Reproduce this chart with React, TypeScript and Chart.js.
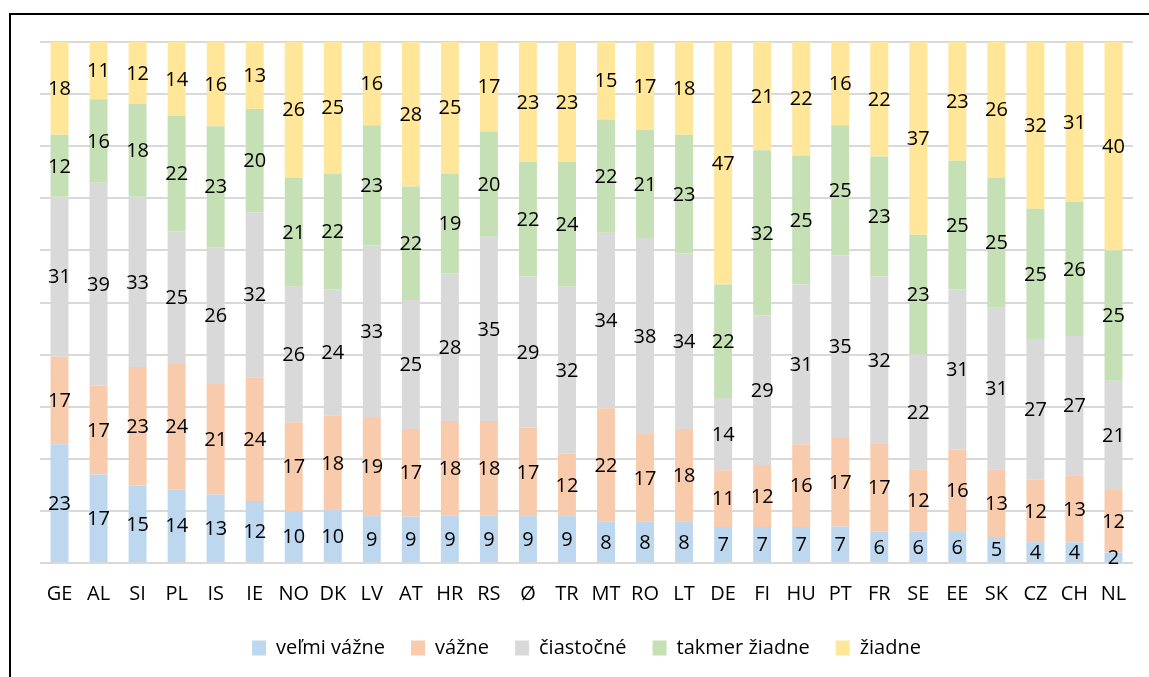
import React, { useEffect, useRef } from "react";
import { Chart, registerables } from "chart.js";

Chart.register(...registerables);

const categories = ["GE","AL","SI","PL","IS","IE","NO","DK","LV","AT","HR","RS","Ø","TR","MT","RO","LT","DE","FI","HU","PT","FR","SE","EE","SK","CZ","CH","NL"];

const velmiVazne = [23,17,15,14,13,12,10,10,9,9,9,9,9,9,8,8,8,7,7,7,7,6,6,6,5,4,4,2];
const vazne      = [17,17,23,24,21,24,17,18,19,17,18,18,17,12,22,17,18,11,12,16,17,17,12,16,13,12,13,12];
const ciastocne  = [31,39,33,25,26,32,26,24,33,25,28,35,29,32,34,38,34,14,29,31,35,32,22,31,31,27,27,21];
const takmerZiadne = [12,16,18,22,23,20,21,22,23,22,19,20,22,24,22,21,23,22,32,25,25,23,23,25,25,25,26,25];
const ziadne     = [18,11,12,14,16,13,26,25,16,28,25,17,23,23,15,17,18,47,21,22,16,22,37,23,26,32,31,40];

const seriesNames = ["veľmi vážne","vážne","čiastočné","takmer žiadne","žiadne"];
const seriesColors = ["#bdd7ee","#f8cbad","#d9d9d9","#c5e0b4","#ffe699"];
const seriesValues = [velmiVazne, vazne, ciastocne, takmerZiadne, ziadne];

const FONT = "'Open Sans', sans-serif";
const LEGEND_TRIM = 5;

const labelPlugin = {
  id: "segLabels",
  afterDatasetsDraw(chart: any) {
    const ctx = chart.ctx;
    ctx.save();
    ctx.font = `20px ${FONT}`;
    ctx.fillStyle = "#000";
    ctx.textAlign = "center";
    ctx.textBaseline = "middle";
    chart.data.datasets.forEach((ds: any, i: number) => {
      const meta = chart.getDatasetMeta(i);
      meta.data.forEach((el: any, j: number) => {
        const p = el.getProps(["x", "y", "base"], true);
        ctx.fillText(String(ds.rawValues[j]), p.x, (p.y + p.base) / 2 + 1);
      });
    });
    ctx.restore();
  },
};

const legendTrimPlugin = {
  id: "legendTrim",
  beforeLayout(chart: any) {
    const lg = chart.legend;
    if (!lg || lg.__trimmed) return;
    lg.__trimmed = true;
    const origFit = lg.fit;
    lg.fit = function () {
      origFit.call(this);
      this.height -= LEGEND_TRIM;
    };
    const origDraw = lg.draw;
    lg.draw = function () {
      this.top -= LEGEND_TRIM;
      origDraw.call(this);
      this.top += LEGEND_TRIM;
    };
  },
};

export default function App() {
  const ref = useRef<HTMLCanvasElement>(null);
  useEffect(() => {
    if (!ref.current) return;
    const totals = categories.map((_, j) => seriesValues.reduce((s, arr) => s + arr[j], 0));
    const chart = new Chart(ref.current, {
      type: "bar",
      data: {
        labels: categories,
        datasets: seriesValues.map((vals, i) => ({
          label: seriesNames[i],
          data: vals.map((v, j) => (v / totals[j]) * 100),
          rawValues: vals,
          backgroundColor: seriesColors[i],
          borderWidth: 0,
          barPercentage: 0.46,
          categoryPercentage: 1,
        })) as any,
      },
      options: {
        animation: false,
        responsive: false,
        maintainAspectRatio: false,
        layout: { padding: { left: 40, right: 16, top: 42, bottom: 9 } },
        scales: {
          x: {
            stacked: true,
            grid: { display: false },
            border: { display: false },
            ticks: { color: "#000", font: { family: FONT, size: 20 }, padding: 11, maxRotation: 0, autoSkip: false },
          },
          y: {
            stacked: true,
            min: 0,
            max: 100,
            ticks: { display: false, stepSize: 10 },
            grid: { color: "#d9d9d9", lineWidth: 2, drawTicks: false },
            border: { display: false },
          },
        },
        plugins: {
          legend: {
            position: "bottom",
            labels: {
              color: "#000",
              font: { family: FONT, size: 20 },
              boxWidth: 14,
              boxHeight: 15,
              padding: 26,
            },
          },
          tooltip: { enabled: false },
        },
      },
      plugins: [legendTrimPlugin, labelPlugin],
    });
    return () => chart.destroy();
  }, []);
  return (
    <div style={{ position: "fixed", left: 0, top: 0, width: 1149, height: 677, overflow: "hidden", background: "#fff" }}>
      <canvas ref={ref} width={1149} height={677} style={{ position: "absolute", left: 0, top: 0 }} />
      <div style={{ position: "absolute", left: 9, top: 13, width: 2000, height: 2000, borderLeft: "2px solid #000", borderTop: "2px solid #000", pointerEvents: "none" }} />
    </div>
  );
}
